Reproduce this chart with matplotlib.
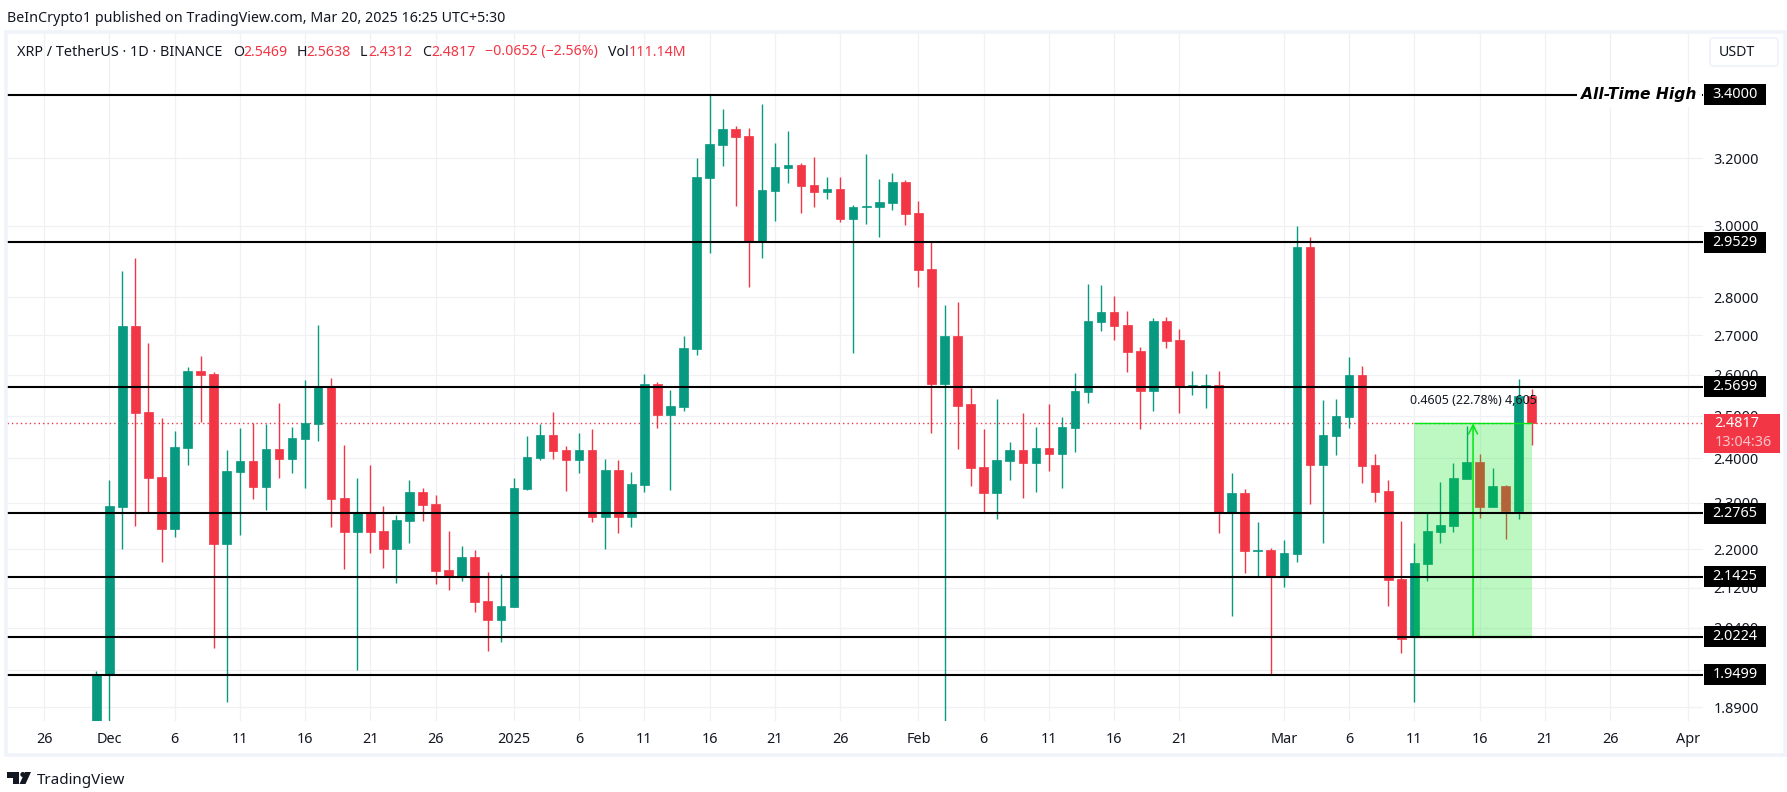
import matplotlib
matplotlib.use("Agg")
import matplotlib.dates as mdates
import matplotlib.pyplot as plt
import pandas as pd
from matplotlib.patches import Ellipse, FancyBboxPatch, Polygon, Rectangle
from matplotlib.ticker import FixedFormatter, FixedLocator, NullLocator

W, H = 1787, 792
GREEN = "#089981"
RED = "#f23645"
INK = "#131722"
BAND = "#f0f3fa"
GRID = "#f0f1f4"
BOX_GREEN = "#00e614"

plt.rcParams["font.family"] = ["Noto Sans", "DejaVu Sans"]

first_day = "2024-11-30"
opens = [
    1.800, 1.951, 2.290, 2.724, 2.509, 2.357, 2.243, 2.424, 2.609, 2.602, 2.211, 2.368, 2.394, 2.335, 2.421, 2.398,
    2.445, 2.480, 2.570, 2.310, 2.236, 2.280, 2.238, 2.200, 2.260, 2.324, 2.297, 2.156, 2.142, 2.183, 2.093, 2.055,
    2.081, 2.330, 2.401, 2.454, 2.419, 2.396, 2.419, 2.269, 2.373, 2.269, 2.339, 2.577, 2.502, 2.521, 2.665, 3.140,
    3.241, 3.291, 3.269, 2.953, 3.101, 3.170, 3.179, 3.119, 3.098, 3.107, 3.019, 3.053, 3.054, 3.065, 3.128, 3.036,
    2.877, 2.577, 2.698, 2.528, 2.380, 2.321, 2.394, 2.419, 2.389, 2.424, 2.410, 2.471, 2.557, 2.735, 2.761, 2.727,
    2.660, 2.560, 2.737, 2.688, 2.570, 2.570, 2.575, 2.2765, 2.321, 2.196, 2.198, 2.142, 2.190, 2.939, 2.384, 2.452,
    2.497, 2.599, 2.384, 2.326, 2.138, 2.0212, 2.168, 2.236, 2.249, 2.353, 2.391, 2.290, 2.337, 2.282, 2.5469,
]
highs = [
    1.957, 2.350, 2.872, 2.908, 2.681, 2.494, 2.464, 2.619, 2.647, 2.607, 2.419, 2.471, 2.482, 2.480, 2.531, 2.473,
    2.587, 2.727, 2.592, 2.431, 2.355, 2.384, 2.293, 2.274, 2.350, 2.332, 2.317, 2.238, 2.206, 2.198, 2.152, 2.148,
    2.355, 2.452, 2.480, 2.509, 2.428, 2.459, 2.468, 2.398, 2.396, 2.368, 2.602, 2.582, 2.562, 2.698, 3.201, 3.400,
    3.355, 3.300, 3.294, 3.371, 3.247, 3.285, 3.185, 3.204, 3.143, 3.143, 3.059, 3.213, 3.137, 3.155, 3.134, 3.071,
    2.953, 2.780, 2.788, 2.567, 2.468, 2.540, 2.438, 2.506, 2.473, 2.528, 2.497, 2.604, 2.836, 2.834, 2.804, 2.764,
    2.670, 2.745, 2.748, 2.717, 2.609, 2.602, 2.609, 2.366, 2.330, 2.258, 2.202, 2.219, 2.999, 2.967, 2.538, 2.540,
    2.645, 2.622, 2.410, 2.350, 2.260, 2.213, 2.2765, 2.346, 2.389, 2.475, 2.410, 2.378, 2.339, 2.589, 2.5638,
]
lows = [
    1.780, 1.820, 2.200, 2.249, 2.280, 2.173, 2.225, 2.384, 2.485, 2.001, 1.900, 2.230, 2.308, 2.284, 2.355, 2.366,
    2.332, 2.440, 2.247, 2.158, 1.959, 2.192, 2.160, 2.130, 2.213, 2.260, 2.127, 2.115, 2.134, 2.071, 1.995, 2.012,
    2.081, 2.328, 2.396, 2.398, 2.326, 2.366, 2.258, 2.200, 2.234, 2.247, 2.324, 2.471, 2.328, 2.511, 2.650, 2.922,
    3.176, 3.056, 2.828, 2.908, 3.013, 3.125, 3.036, 3.054, 3.077, 3.010, 2.655, 3.004, 2.967, 3.045, 3.001, 2.828,
    2.459, 1.830, 2.421, 2.337, 2.278, 2.265, 2.350, 2.310, 2.324, 2.371, 2.332, 2.414, 2.531, 2.711, 2.688, 2.607,
    2.468, 2.511, 2.668, 2.506, 2.550, 2.518, 2.234, 2.063, 2.150, 2.142, 1.950, 2.121, 2.173, 2.297, 2.213, 2.407,
    2.471, 2.344, 2.301, 2.083, 1.991, 1.900, 2.134, 2.213, 2.236, 2.353, 2.267, 2.290, 2.221, 2.265, 2.4312,
]
closes = [
    1.950, 2.293, 2.724, 2.506, 2.355, 2.243, 2.426, 2.609, 2.599, 2.211, 2.371, 2.394, 2.335, 2.421, 2.398, 2.447,
    2.482, 2.570, 2.308, 2.236, 2.280, 2.236, 2.200, 2.262, 2.324, 2.295, 2.154, 2.142, 2.183, 2.091, 2.055, 2.083,
    2.332, 2.403, 2.454, 2.417, 2.396, 2.419, 2.269, 2.373, 2.269, 2.341, 2.577, 2.502, 2.523, 2.668, 3.143, 3.244,
    3.291, 3.266, 2.953, 3.104, 3.173, 3.179, 3.116, 3.098, 3.107, 3.019, 3.054, 3.056, 3.068, 3.128, 3.033, 2.875,
    2.577, 2.698, 2.523, 2.378, 2.321, 2.396, 2.419, 2.389, 2.424, 2.410, 2.473, 2.560, 2.737, 2.761, 2.724, 2.657,
    2.560, 2.737, 2.686, 2.570, 2.575, 2.575, 2.2765, 2.321, 2.196, 2.198, 2.142, 2.192, 2.939, 2.384, 2.454, 2.499,
    2.599, 2.382, 2.324, 2.136, 2.018, 2.170, 2.238, 2.251, 2.355, 2.391, 2.290, 2.337, 2.282, 2.5469, 2.4817,
]

levels = [3.4000, 2.9529, 2.5699, 2.2765, 2.1425, 2.0224, 1.9499]
last_price = 2.4817
last_open = 2.0212

price_ticks = [3.2, 3.0, 2.8, 2.7, 2.6, 2.5, 2.4, 2.3, 2.2, 2.12, 2.04, 1.96, 1.89]

date_ticks = [
    "2024-11-26", "2024-12-01", "2024-12-06", "2024-12-11", "2024-12-16", "2024-12-21", "2024-12-26",
    "2025-01-01", "2025-01-06", "2025-01-11", "2025-01-16", "2025-01-21", "2025-01-26",
    "2025-02-01", "2025-02-06", "2025-02-11", "2025-02-16", "2025-02-21",
    "2025-03-01", "2025-03-06", "2025-03-11", "2025-03-16", "2025-03-21", "2025-03-26", "2025-04-01",
]
date_labels = [
    "26", "Dec", "6", "11", "16", "21", "26",
    "2025", "6", "11", "16", "21", "26",
    "Feb", "6", "11", "16", "21",
    "Mar", "6", "11", "16", "21", "26", "Apr",
]

ohlc_labels = [
    ("O", 233, INK), ("2.5469", 243, RED), ("H", 297, INK), ("2.5638", 306, RED),
    ("L", 360, INK), ("2.4312", 368, RED), ("C", 422, INK), ("2.4817", 431, RED),
    ("\u22120.0652 (\u22122.56%)", 485, RED), ("Vol", 608, INK), ("111.14M", 629, RED),
]


def put_text(x, y, s, **kw):
    # x, y in image pixels, y going down
    return fig.text(x / W, 1 - y / H, s, zorder=6, **kw)


def put_rect(x0, y0, x1, y1, **kw):
    r = Rectangle((x0 / W, 1 - y1 / H), (x1 - x0) / W, (y1 - y0) / H, transform=fig.transFigure, **kw)
    fig.add_artist(r)


def put_poly(points, **kw):
    fig.add_artist(Polygon([(x / W, 1 - y / H) for x, y in points], closed=True, transform=fig.transFigure, **kw))


def price_y(v):
    return H - ax.transData.transform((ax.get_xlim()[0], v))[1]


fig = plt.figure(figsize=(W / 100, H / 100), dpi=100, facecolor="white")
ax = fig.add_axes([7 / W, 1 - 721 / H, (1703 - 7) / W, (721 - 31) / H])

days = mdates.date2num(pd.date_range(first_day, periods=len(opens), freq="D"))
dec1 = mdates.date2num(pd.Timestamp("2024-12-01"))

ax.set_yscale("log")
ax.set_ylim(1.8656, 3.615)
ax.set_xlim(dec1 - 7.84, dec1 + 122.12)

for side in ax.spines.values():
    side.set_visible(False)

ax.yaxis.tick_right()
ax.yaxis.set_major_locator(FixedLocator(price_ticks))
ax.yaxis.set_major_formatter(FixedFormatter([f"{p:.4f}" for p in price_ticks]))
ax.yaxis.set_minor_locator(NullLocator())
ax.set_xticks(mdates.date2num(pd.to_datetime(date_ticks)))
ax.set_xticklabels(date_labels)
ax.tick_params(axis="y", length=0, pad=7.5, labelsize=10.4, labelcolor=INK)
ax.tick_params(axis="x", length=0, pad=8, labelsize=10.4, labelcolor=INK)
for lab, txt in zip(ax.get_xticklabels(), date_labels):
    if txt == "2025":
        lab.set_fontweight("bold")
ax.grid(True, color=GRID, lw=0.9, zorder=0)
ax.set_axisbelow(True)

# candles
colors = [GREEN if c >= o else RED for o, c in zip(opens, closes)]
ax.axhline(last_price, color=RED, lw=1.0, ls=(0, (1, 2.2)), zorder=1)
ax.vlines(days, lows, highs, colors=colors, lw=1.0, zorder=2)
bottoms = [min(o, c) for o, c in zip(opens, closes)]
heights = [abs(o - c) for o, c in zip(opens, closes)]
ax.bar(days, heights, bottom=bottoms, width=0.66, color=colors, edgecolor=colors, lw=0.5, zorder=3)

# long position box
box_x0, box_x1 = days[-10], days[-1]
ax.add_patch(Rectangle((box_x0, last_open), box_x1 - box_x0, last_price - last_open,
                       facecolor=BOX_GREEN, alpha=0.26, edgecolor="none", zorder=4))
ax.hlines(last_price, box_x0, box_x1, colors=BOX_GREEN, lw=1.0, zorder=4.5)
ax.hlines(last_open, box_x0, box_x1, colors=BOX_GREEN, lw=1.6, zorder=4.5)
box_mid = (box_x0 + box_x1) / 2
ax.annotate("", xy=(box_mid, last_price), xytext=(box_mid, last_open),
            arrowprops=dict(arrowstyle="->", color=BOX_GREEN, lw=1.1, shrinkA=0, shrinkB=0, mutation_scale=16),
            zorder=4.6)
ax.text(box_mid, 2.5378, "0.4605 (22.78%) 4,605", ha="center", va="center", fontsize=9.0, color=INK, zorder=7)

# support / resistance levels
for lvl in levels:
    ax.axhline(lvl, color="black", lw=1.5, zorder=5)
ax.text(dec1 + (1639 - 109.3) / 13.05, 3.4, "All-Time High", ha="center", va="center", fontsize=11.2,
        fontweight="bold", fontstyle="italic", family="DejaVu Sans", color="black", zorder=6,
        bbox=dict(facecolor="white", edgecolor="none", pad=3.5))

# frame around the chart
fig.add_artist(Rectangle((6 / W, 1 - 755 / H), 1779 / W, 723 / H, transform=fig.transFigure,
                         facecolor="none", edgecolor=BAND, lw=2.6, zorder=1))

# price scale boxes
for lvl in levels:
    y = price_y(lvl)
    put_rect(1704, y - 10.5, 1766, y + 10.5, facecolor="black", edgecolor="none", zorder=5)
    put_text(1735, y, f"{lvl:.4f}", ha="center", va="center", color="white", fontsize=10.4, fontweight="bold")

y = price_y(last_price)
put_rect(1704, 414, 1780, 453, facecolor=RED, edgecolor="none", zorder=5)
put_text(1714, y, f"{last_price:.4f}", ha="left", va="center", color="white", fontsize=10.4, fontweight="bold")
put_text(1715, 443, "13:04:36", ha="left", va="center", color="#fbc4ca", fontsize=10.4)

# USDT button
fig.add_artist(FancyBboxPatch((1710 / W, 1 - 66 / H), 68 / W, 28 / H, transform=fig.transFigure,
                              boxstyle="round,pad=0,rounding_size=0.002", mutation_aspect=2.2,
                              facecolor="white", edgecolor=BAND, lw=1.4, zorder=2))
put_text(1719, 52, "USDT", ha="left", va="center", color=INK, fontsize=10.2)

# header text
put_text(7, 18, "BeInCrypto1 published on TradingView.com, Mar 20, 2025 16:25 UTC+5:30",
         ha="left", va="center", color=INK, fontsize=10.25)
put_text(17, 52, "XRP / TetherUS \u00b7 1D \u00b7 BINANCE", ha="left", va="center", color=INK, fontsize=10.4)
for s, x, col in ohlc_labels:
    put_text(x, 52, s, ha="left", va="center", color=col, fontsize=10.2)

# TradingView logo
put_poly([(7.3, 772), (19, 772), (19, 784), (13, 784), (13, 778), (7.3, 778)], facecolor=INK, edgecolor="none")
put_poly([(25, 772), (31, 772), (25.5, 784), (19.5, 784)], facecolor=INK, edgecolor="none")
fig.add_artist(Ellipse((22.8 / W, 1 - 774.5 / H), 5 / W, 5 / H, transform=fig.transFigure, facecolor=INK, edgecolor="none"))
put_text(37, 780, "TradingView", ha="left", va="center", color=INK, fontsize=10.9)

fig.savefig("out.png", dpi=100, facecolor="white")
